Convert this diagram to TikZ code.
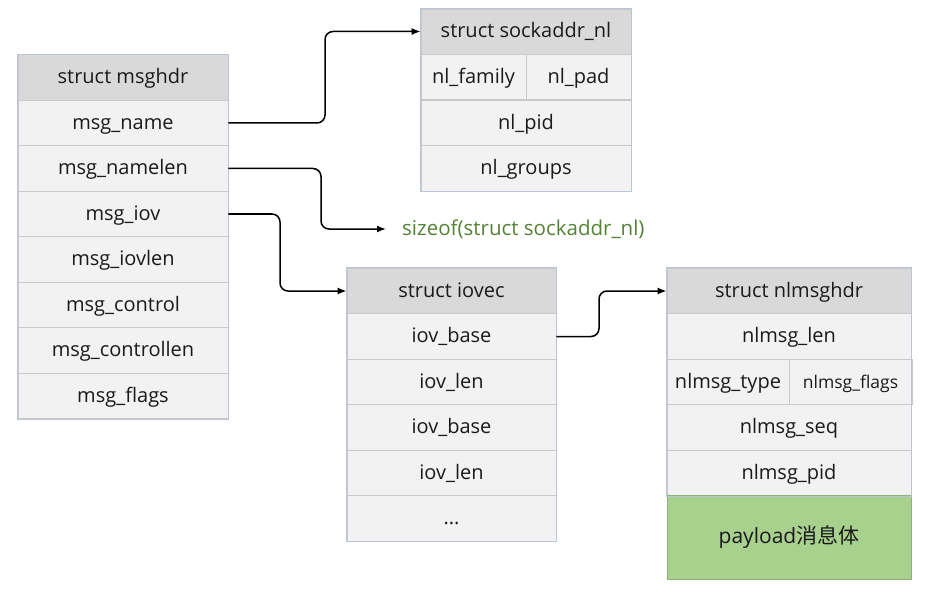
\documentclass[tikz,border=0pt]{standalone}
\usepackage{fontspec}
\setmainfont{Open Sans}
\newfontfamily\cjk{Noto Sans CJK SC}
\usetikzlibrary{arrows.meta}
\definecolor{cellfill}{HTML}{F2F2F2}
\definecolor{headfill}{HTML}{D9D9D9}
\definecolor{cellline}{HTML}{C8C8C8}
\definecolor{outline}{HTML}{BCC6D3}
\definecolor{payfill}{HTML}{A9D18E}
\definecolor{sizegreen}{HTML}{548235}
\definecolor{txt}{HTML}{1A1A1A}
\tikzset{
  cell/.style={draw=cellline, line width=0.8pt, fill=cellfill, inner sep=0pt, text=txt,
    font=\fontsize{20}{22}\selectfont, minimum height=45.5pt, text height=1.25em, text depth=0pt},
  head/.style={cell, fill=headfill},
  pay/.style={cell, fill=payfill, draw=payfill!85!black},
  conn/.style={line width=1.5pt, rounded corners=8pt, -{Latex[length=9pt,width=7pt]}},
  frame/.style={draw=outline, line width=0.8pt}
}
\begin{document}
\begin{tikzpicture}[x=1pt,y=-1pt]
\useasboundingbox (0,0) rectangle (927,615);
% struct msghdr
\foreach \n/\t/\y [count=\i from 0] in {mh0/struct msghdr/77.5, mh1/msg\_name/123, mh2/msg\_namelen/168.5, mh3/msg\_iov/214, mh4/msg\_iovlen/259.5, mh5/msg\_control/305, mh6/msg\_controllen/350.5, mh7/msg\_flags/396}{
  \ifnum\i=0
    \node[head, minimum width=210pt] (\n) at (123,\y) {\t};
  \else
    \node[cell, minimum width=210pt] (\n) at (123,\y) {\t};
  \fi
}
\draw[frame] (mh0.north west) rectangle (mh7.south east);
% struct sockaddr_nl
\node[head, minimum width=210pt, minimum height=45pt] (sa0) at (526,31.5) {struct sockaddr\_nl};
\node[cell, minimum width=105pt] (sa1) at (473.5,77) {nl\_family};
\node[cell, minimum width=105pt] (sa2) at (578.5,77) {nl\_pad};
\node[cell, minimum width=210pt] (sa3) at (526,123) {nl\_pid};
\node[cell, minimum width=210pt] (sa4) at (526,168.5) {nl\_groups};
\draw[frame] (sa0.north west) rectangle (sa4.south east);
% sizeof
\node[anchor=west, inner sep=0pt, text=sizegreen, font=\fontsize{20.5}{22}\selectfont, text height=1.25em, text depth=0pt] (sz) at (402,229) {sizeof(struct sockaddr\_nl)};
% struct iovec
\node[head, minimum width=209pt] (iv0) at (451.5,291) {struct iovec};
\node[cell, minimum width=209pt] (iv1) at (451.5,336.5) {iov\_base};
\node[cell, minimum width=209pt] (iv2) at (451.5,382) {iov\_len};
\node[cell, minimum width=209pt] (iv3) at (451.5,427.5) {iov\_base};
\node[cell, minimum width=209pt] (iv4) at (451.5,473) {iov\_len};
\node[cell, minimum width=209pt] (iv5) at (451.5,518.5) {...};
\draw[frame] (iv0.north west) rectangle (iv5.south east);
% struct nlmsghdr
\node[head, minimum width=244pt] (nh0) at (789,291) {struct nlmsghdr};
\node[cell, minimum width=244pt] (nh1) at (789,336.5) {nlmsg\_len};
\node[cell, minimum width=122pt] (nh2) at (728,382) {nlmsg\_type};
\node[cell, minimum width=123pt, font=\fontsize{17.5}{20}\selectfont] (nh3) at (850.5,382) {nlmsg\_flags};
\node[cell, minimum width=244pt] (nh4) at (789,427.5) {nlmsg\_seq};
\node[cell, minimum width=244pt] (nh5) at (789,473) {nlmsg\_pid};
\node[pay, minimum width=244pt, minimum height=84pt, font=\fontsize{21}{23}\selectfont] (nh6) at (789,537.5) {payload{\cjk 消息体}};
\draw[frame] (nh0.north west) rectangle (nh5.south east);
% connectors
\draw[conn] (mh1.east) -- (325,123) |- (sa0.west);
\draw[conn] (mh2.east) -- (321,168.5) |- ([xshift=-16pt]sz.west);
\draw[conn] (mh3.east) -- (280,214) |- (iv0.west);
\draw[conn] (iv1.east) -- (599,336.5) |- (nh0.west);
\end{tikzpicture}
\end{document}
